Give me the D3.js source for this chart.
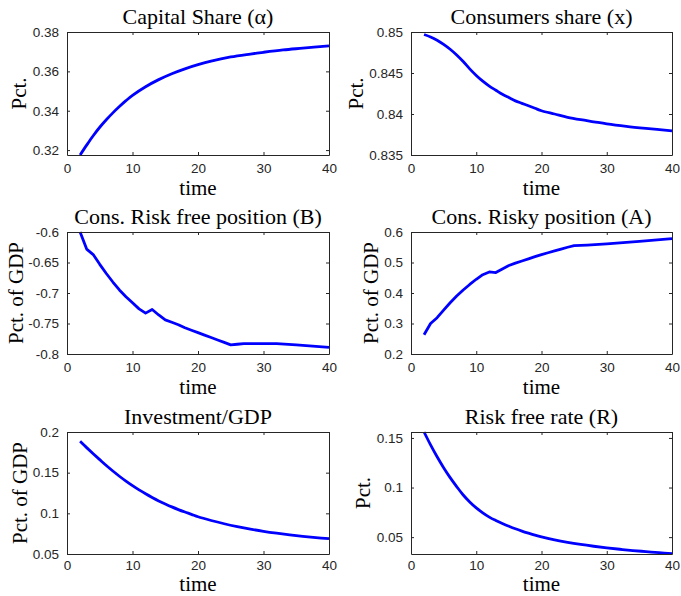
<!DOCTYPE html>
<html>
<head>
<meta charset="utf-8">
<script src="https://cdn.jsdelivr.net/npm/d3@7"></script>
<style>
  html, body { margin: 0; padding: 0; background: #fff; }
  svg { display: block; }
</style>
</head>
<body>
<svg id="chart" width="681" height="596"></svg>
<script>
// ---------------- DATA ----------------
const xTicks = [0, 10, 20, 30, 40];

const titles = ["Capital Share (\u03B1)", "Consumers share (x)", "Cons. Risk free position (B)",
                "Cons. Risky position (A)", "Investment/GDP", "Risk free rate (R)"];
const yLabels = ["Pct.", "Pct.", "Pct. of GDP", "Pct. of GDP", "Pct. of GDP", "Pct."];

// Capital share (alpha)
const capT = [2,3,4,5,6,7,8,9,10,12,14,16,18,20,22,25,28,30,33,36,40];
const capV = [0.3175,0.3225,0.3273,0.3316,0.3354,0.3389,0.3421,0.3451,0.3478,0.3522,0.3558,0.3588,0.3613,0.3634,0.3652,0.3673,0.3688,0.3697,0.3709,0.3718,0.3730];
const capTicks = [0.32, 0.34, 0.36, 0.38];
const capTickLabels = ["0.32", "0.34", "0.36", "0.38"];

// Consumers share (x)
const conT = [2,3,4,5,6,7,8,9,10,11,12,13,14,15,16,17,18,19,20,22,24,26,28,30,33,36,40];
const conV = [0.8497,0.8494,0.8490,0.8485,0.8479,0.8472,0.8464,0.8455,0.8447,0.8440,0.8434,0.8429,0.8424,0.8420,0.8416,0.8413,0.8410,0.8407,0.8404,0.8400,0.8396,0.8393,0.83905,0.8388,0.8385,0.83825,0.83795];
const conTicks = [0.835, 0.84, 0.845, 0.85];
const conTickLabels = ["0.835", "0.84", "0.845", "0.85"];

// Cons. risk free position (B)
const bT = [2,3,4,5,6,7,8,9,10,11,12,13,14,15,16,17,18,19,20,21,22,23,24,25,26,27,30,32,35,40];
const bV = [-0.600,-0.628,-0.637,-0.653,-0.668,-0.682,-0.695,-0.706,-0.716,-0.726,-0.733,-0.727,-0.736,-0.744,-0.748,-0.752,-0.757,-0.761,-0.765,-0.769,-0.773,-0.777,-0.781,-0.785,-0.784,-0.783,-0.783,-0.783,-0.785,-0.789];
const bTicks = [-0.8, -0.75, -0.7, -0.65, -0.6];
const bTickLabels = ["-0.8", "-0.75", "-0.7", "-0.65", "-0.6"];

// Cons. risky position (A)
const aT = [2,3,4,5,6,7,8,9,10,11,12,13,14,15,16,17,18,19,20,21,22,23,24,25,26,27,30,35,40];
const aV = [0.263,0.300,0.319,0.344,0.368,0.390,0.410,0.428,0.445,0.460,0.469,0.467,0.479,0.490,0.498,0.505,0.512,0.519,0.526,0.532,0.538,0.544,0.550,0.555,0.556,0.557,0.561,0.569,0.578];
const aTicks = [0.2, 0.3, 0.4, 0.5, 0.6];
const aTickLabels = ["0.2", "0.3", "0.4", "0.5", "0.6"];

// Investment/GDP
const invT = [2,3,4,5,6,7,8,9,10,11,12,13,14,15,16,17,18,19,20,22,24,26,28,30,32,34,36,38,40];
const invV = [0.1885,0.1808,0.1733,0.1660,0.1588,0.1520,0.1456,0.1396,0.1340,0.1288,0.1240,0.1195,0.1153,0.1115,0.1079,0.1046,0.1016,0.0988,0.0958,0.0912,0.0872,0.0837,0.0806,0.0779,0.0756,0.0736,0.0718,0.0702,0.0688];
const invTicks = [0.05, 0.1, 0.15, 0.2];
const invTickLabels = ["0.05", "0.1", "0.15", "0.2"];

// Risk free rate (R)
const rT = [2,3,4,5,6,7,8,9,10,11,12,13,14,15,16,17,18,19,20,22,24,26,28,30,32,34,36,38,40];
const rV = [0.156,0.1430,0.1310,0.1200,0.1100,0.1010,0.0925,0.0855,0.0795,0.0745,0.0702,0.0668,0.0638,0.0610,0.0584,0.0561,0.0540,0.0520,0.0502,0.0472,0.0447,0.0426,0.0408,0.0392,0.0378,0.0365,0.0354,0.0343,0.0333];
const rTicks = [0.05, 0.1, 0.15];
const rTickLabels = ["0.05", "0.1", "0.15"];

// ---------------- DRAW ----------------
const svg = d3.select("#chart");
const serif = "'Liberation Serif', 'Times New Roman', serif";
const sans = "'Liberation Sans', Arial, sans-serif";
const axisColor = "#262626";

const colX = [{l: 67, r: 329}, {l: 411, r: 672}];
const rowY = [{t: 32, b: 155}, {t: 232, b: 354}, {t: 432, b: 554}];
const xLabelY = [195, 394, 591];
const xTickPad = [8, 8, 6];
const smooth = d3.curveCatmullRom.alpha(0.5);

const panels = [
  {t: capT, v: capV, dom: [0.3175, 0.38], ticks: capTicks, labels: capTickLabels, curve: smooth, ylx: 26},
  {t: conT, v: conV, dom: [0.835, 0.85], ticks: conTicks, labels: conTickLabels, curve: smooth, ylx: 363},
  {t: bT, v: bV, dom: [-0.8, -0.6], ticks: bTicks, labels: bTickLabels, curve: d3.curveLinear, ylx: 23},
  {t: aT, v: aV, dom: [0.2, 0.6], ticks: aTicks, labels: aTickLabels, curve: d3.curveLinear, ylx: 378},
  {t: invT, v: invV, dom: [0.05, 0.2], ticks: invTicks, labels: invTickLabels, curve: smooth, ylx: 27},
  {t: rT, v: rV, dom: [0.033, 0.156], ticks: rTicks, labels: rTickLabels, curve: smooth, ylx: 370}
];

panels.forEach((p, i) => {
  const c = colX[i % 2], row = Math.floor(i / 2), r = rowY[row];
  const x = d3.scaleLinear().domain([0, 40]).range([c.l, c.r]);
  const y = d3.scaleLinear().domain(p.dom).range([r.b, r.t]);
  const g = svg.append("g");
  const tl = 3;

  // line
  const data = p.t.map((t, k) => ({t: t, v: p.v[k]}));
  g.append("path")
    .datum(data)
    .attr("fill", "none")
    .attr("stroke", "#0000FF")
    .attr("stroke-width", 2.8)
    .attr("stroke-linejoin", "round")
    .attr("d", d3.line().x(d => x(d.t)).y(d => y(d.v)).curve(p.curve));

  // bottom axis
  const xb = g.append("g").attr("transform", `translate(0,${r.b})`)
    .call(d3.axisBottom(x).tickValues(xTicks).tickSizeInner(-tl).tickSizeOuter(0).tickPadding(xTickPad[row]).tickFormat(d3.format("d")));
  // top axis (ticks only)
  const xt = g.append("g").attr("transform", `translate(0,${r.t})`)
    .call(d3.axisTop(x).tickValues(xTicks).tickSizeInner(-tl).tickSizeOuter(0).tickFormat(""));
  // left axis
  const yl = g.append("g").attr("transform", `translate(${c.l},0)`)
    .call(d3.axisLeft(y).tickValues(p.ticks).tickSizeInner(-tl).tickSizeOuter(0).tickPadding(8)
      .tickFormat((d, k) => p.labels[k]));
  // right axis
  const yr = g.append("g").attr("transform", `translate(${c.r},0)`)
    .call(d3.axisRight(y).tickValues(p.ticks).tickSizeInner(-tl).tickSizeOuter(0).tickFormat(""));

  [xb, xt, yl, yr].forEach(a => {
    a.select(".domain").attr("stroke", axisColor).attr("stroke-width", 1);
    a.selectAll(".tick line").attr("stroke", axisColor).attr("stroke-width", 1);
    a.selectAll(".tick text").attr("fill", axisColor).style("font-family", sans).style("font-size", "13.5px");
  });

  // title
  g.append("text")
    .attr("x", (c.l + c.r) / 2).attr("y", r.t - 8)
    .attr("text-anchor", "middle")
    .style("font-family", serif).style("font-size", "22px").attr("fill", "#000")
    .text(titles[i]);

  // x label
  g.append("text")
    .attr("x", (c.l + c.r) / 2).attr("y", xLabelY[row])
    .attr("text-anchor", "middle")
    .style("font-family", serif).style("font-size", "21px").attr("fill", "#000")
    .text("time");

  // y label
  g.append("text")
    .attr("transform", `translate(${p.ylx},${(r.t + r.b) / 2}) rotate(-90)`)
    .attr("text-anchor", "middle")
    .style("font-family", serif).style("font-size", "21px").attr("fill", "#000")
    .text(yLabels[i]);
});
</script>
</body>
</html>
